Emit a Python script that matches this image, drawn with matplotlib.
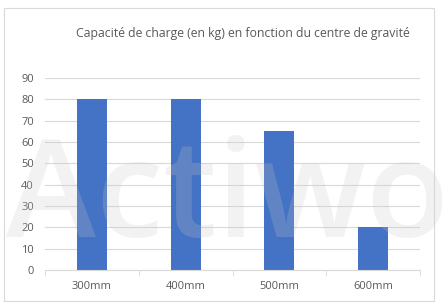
import matplotlib
matplotlib.use("Agg")
import matplotlib.pyplot as plt
from matplotlib.patches import Rectangle

categories = ["300mm", "400mm", "500mm", "600mm"]
values = [80, 80, 65, 20]
y_ticks = [0, 10, 20, 30, 40, 50, 60, 70, 80, 90]
title = "Capacité de charge (en kg) en fonction du centre de gravité"
watermark = "Actiwo"

plt.rcParams['font.family'] = ['Open Sans', 'DejaVu Sans']

W, H = 442, 308
fig = plt.figure(figsize=(W / 100, H / 100), dpi=100)

# outer chart border
fig.patches.append(Rectangle((4 / W, 7 / H), 430 / W, 293 / H, transform=fig.transFigure,
                             facecolor="none", edgecolor="#d9d9d9", linewidth=0.8, zorder=-1))

ax = fig.add_axes([45 / W, (H - 270) / H, 375 / W, 192 / H])
ax.set_facecolor("none")
x = range(len(categories))
ax.bar(x, values, width=0.32, color="#4472c4", zorder=2)
ax.set_xlim(-0.5, len(categories) - 0.5)
ax.set_ylim(0, 90)
ax.set_yticks(y_ticks)
ax.yaxis.grid(True, color="#d9d9d9", linewidth=0.8, zorder=0)
ax.set_axisbelow(True)
ax.set_xticks(list(x))
ax.set_xticklabels(categories)
ax.set_xticks([i - 0.5 for i in range(len(categories) + 1)], minor=True)
for s in ["top", "right", "left"]:
    ax.spines[s].set_visible(False)
ax.spines["bottom"].set_color("#d9d9d9")
ax.tick_params(axis="y", length=0, pad=8, labelsize=8, labelcolor="#595959")
ax.tick_params(axis="x", which="major", length=0, pad=8, labelsize=8, labelcolor="#595959")
ax.tick_params(axis="x", which="minor", length=4, color="#d9d9d9")

fig.text(243 / W, 1 - 33 / H, title, ha="center", va="center", fontsize=8.8, color="#595959")

# watermark
fig.text(6 / W, 1 - 237 / H, watermark, ha="left", va="baseline", fontsize=98,
         fontweight="semibold", color="#c8c8c8", alpha=0.22, zorder=10)

fig.savefig("out.png", dpi=100)
